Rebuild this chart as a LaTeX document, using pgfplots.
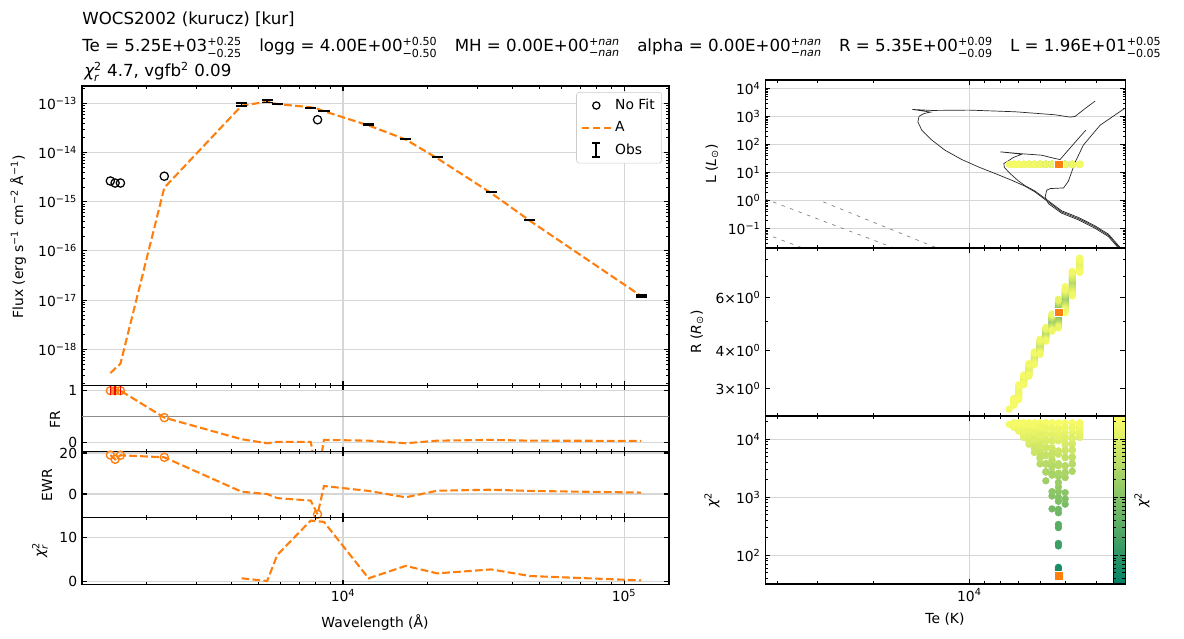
\documentclass[border=0pt]{standalone}
\usepackage{fontspec}
\setmainfont{DejaVu Sans}
\usepackage{amsmath}
\usepackage{pgfplots}
\usepackage{pgfplotstable}
\pgfplotsset{compat=1.18}

\definecolor{mplorange}{HTML}{FF7F0E}
\definecolor{gridgray}{HTML}{D6D6D6}
\definecolor{legedge}{HTML}{CCCCCC}
\pgfplotsset{colormap={summer}{rgb=(0,0.5,0.4) rgb=(1,1,0.4)}}

\pgfplotsset{every axis/.append style={
    scale only axis,
    axis line style={line width=0.8pt},
    tick align=inside,
    major tick length=3.5pt, minor tick length=2pt,
    every tick/.append style={black, line width=0.8pt},
    every minor tick/.append style={line width=0.6pt},
    grid style={gridgray, line width=0.8pt},
    tick label style={font=\fontsize{10}{12}\selectfont}}}

\tikzset{
  dashA/.style={mplorange, line width=1.5pt, dash pattern=on 5.5pt off 2.4pt},
  iso/.style={black!85, line width=0.5pt},
  rline/.style={gray, line width=0.5pt, dash pattern=on 2.5pt off 4pt},
}
\pgfplotsset{
  gridpts/.style={scatter, only marks, mark=*, mark size=2.4pt,
    scatter/use mapped color={draw=mapped color, fill=mapped color},
    point meta={ln(\thisrow{chi})}},
}
\newcommand{\gap}{\hspace{1.04em}}

% photometry
\pgfplotstableread{
wl F err
4355 9.55e-14 6.7e-15
5370 1.11e-13 5.6e-15
5834 9.55e-14 1.9e-15
7674 8.04e-14 1.6e-15
8551 7.08e-14 1.4e-15
12331 3.72e-14 7.4e-16
16711 1.91e-14 3.8e-16
21627 8.04e-15 1.6e-16
33651 1.58e-15 3.2e-17
46238 4.32e-16 8.6e-18
115080 1.22e-17 6.1e-19
}\obstab

\pgfplotstableread{
wl F
1486 2.64e-15
1545 2.40e-15
1614 2.40e-15
2312 3.30e-15
8115 4.64e-14
}\nofit

\pgfplotstableread{
wl F FR EWR
1486 3.29e-19 1.0 19.0
1545 4.07e-19 1.0 16.9
1614 5.09e-19 1.0 18.9
2312 1.93e-15 0.477 17.9
4355 8.95e-14 0.058 1.1
5370 1.08e-13 -0.02 0.0
5834 9.68e-14 0.006 -2.0
7674 8.32e-14 0.006 -3.2
8115 7.76e-14 -0.70 -9.9
8551 6.92e-14 0.045 3.9
12331 3.56e-14 0.03 1.5
16711 1.84e-14 -0.02 -1.6
21627 7.66e-15 0.03 1.6
33651 1.50e-15 0.045 2.1
46238 4.09e-16 0.03 1.5
115080 1.21e-17 0.026 0.7
}\modeltab

\pgfplotstableread{
wl chi
4355 0.68
5370 0.07
5834 6.0
7674 13.8
8551 13.5
12331 0.68
16711 3.5
21627 1.8
33651 2.7
46238 1.2
115080 0.2
}\chitab

% isochrones
\pgfplotstableread{
Te L
3281 0.0147
3357 0.0193
3656 0.0578
4027 0.1148
4539 0.2275
5129 0.394
5649 0.895
6223 2.042
6683 3.25
7363 5.32
8298 9.20
9373 15.9
10568 29.1
11940 62.8
13118 142.9
14125 325
14521 646
14388 1028
13867 1279
13243 1429
15100 1778
13118 1637
10023 1683
7178 1469
5383 1148
4819 946
4656 1000
4325 1932
4027 3532
}\isoA

\pgfplotstableread{
Te L
3281 0.0162
3357 0.0212
3656 0.0636
4027 0.126
4539 0.250
5129 0.433
5649 0.98
6223 2.2
6683 3.4
7017 5.04
7447 9.20
7762 15.1
7798 20.9
7577 25.4
7278 34.4
6839 45.2
7998 54.7
7017 47.8
5930 41.6
5383 31.6
5188 29.1
4943 54.7
4592 142.9
4305 325
}\isoB

\pgfplotstableread{
Te L
3281 0.0132
3357 0.0174
3656 0.052
4027 0.103
4539 0.205
5129 0.355
5649 0.782
5781 1.352
5714 2.34
5572 2.685
5058 2.83
4886 4.90
4656 22.8
4385 94.6
3882 490
3228 2042
}\isoC

% model grid
\pgfplotstableread{
Te R L chi
7500 2.56 19.6 18000
7250 2.710 19.6 16000
7250 2.693 19.6 16900
7250 2.728 19.6 16700
7250 2.675 19.6 17700
7250 2.745 19.6 17500
7250 2.658 19.6 18500
7250 2.763 19.6 18300
7250 2.640 19.6 19000
7250 2.780 19.6 19200
7000 2.915 19.6 13800
7000 2.874 19.6 15200
7000 2.956 19.6 15000
7000 2.833 19.6 16600
7000 2.998 19.6 16400
7000 2.791 19.6 17900
7000 3.039 19.6 17700
7000 2.750 19.6 19000
7000 3.080 19.6 19200
6750 3.20 19.6 10700
6750 3.17 19.6 12700
6750 3.23 19.6 12500
6750 3.14 19.6 15000
6750 3.26 19.6 14800
6750 3.11 19.6 17100
6750 3.29 19.6 16900
6750 3.08 19.6 19000
6750 3.32 19.6 19200
6500 3.455 19.6 8200
6500 3.414 19.6 10600
6500 3.496 19.6 10400
6500 3.373 19.6 13400
6500 3.538 19.6 13200
6500 3.331 19.6 16200
6500 3.579 19.6 16000
6500 3.290 19.6 19000
6500 3.620 19.6 19200
6250 3.775 19.6 5900
6250 3.729 19.6 8400
6250 3.821 19.6 8200
6250 3.683 19.6 11600
6250 3.868 19.6 11400
6250 3.636 19.6 15200
6250 3.914 19.6 15000
6250 3.590 19.6 19000
6250 3.960 19.6 19200
6000 4.12 19.6 3750
6000 4.06 19.6 6100
6000 4.18 19.6 5900
6000 4.00 19.6 9600
6000 4.24 19.6 9400
6000 3.94 19.6 14000
6000 4.30 19.6 13800
6000 3.88 19.6 19000
6000 4.36 19.6 19200
5750 4.53 19.6 1920
5750 4.47 19.6 3820
5750 4.59 19.6 3700
5750 4.41 19.6 7260
5750 4.65 19.6 7000
5750 4.35 19.6 12300
5750 4.71 19.6 12000
5750 4.29 19.6 19000
5750 4.77 19.6 19200
5500 4.955 19.6 630
5500 4.90 19.6 1050
5500 5.01 19.6 1250
5500 4.85 19.6 2600
5500 5.06 19.6 2400
5500 4.79 19.6 4500
5500 5.12 19.6 4200
5500 4.74 19.6 7100
5500 5.17 19.6 6800
5500 4.68 19.6 12300
5500 5.23 19.6 11800
5500 4.63 19.6 19000
5500 5.28 19.6 19200
5250 5.35 19.6 44
5250 5.30 19.6 57
5250 5.40 19.6 62
5250 5.25 19.6 145
5250 5.45 19.6 160
5250 5.20 19.6 300
5250 5.50 19.6 340
5250 5.15 19.6 540
5250 5.55 19.6 620
5250 5.10 19.6 850
5250 5.60 19.6 1000
5250 5.05 19.6 1250
5250 5.65 19.6 1500
5250 5.00 19.6 1800
5250 5.70 19.6 2300
5250 4.95 19.6 2600
5250 5.75 19.6 3500
5250 4.90 19.6 3800
5250 5.80 19.6 5500
5250 4.85 19.6 6300
5250 5.85 19.6 9400
5250 4.80 19.6 11000
5250 5.90 19.6 16000
5250 4.75 19.6 19000
5000 5.915 19.6 760
5000 5.82 19.6 930
5000 6.01 19.6 1200
5000 5.72 19.6 2180
5000 6.11 19.6 2600
5000 5.62 19.6 3470
5000 6.21 19.6 4900
5000 5.52 19.6 6500
5000 6.30 19.6 8000
5000 5.43 19.6 11000
5000 6.40 19.6 13000
5000 5.33 19.6 19000
5000 6.50 19.6 19200
4750 6.675 19.6 2800
4750 6.52 19.6 4980
4750 6.83 19.6 4800
4750 6.36 19.6 8500
4750 6.99 19.6 8200
4750 6.21 19.6 13200
4750 7.14 19.6 12800
4750 6.05 19.6 19000
4750 7.30 19.6 19200
4500 7.66 19.6 10700
4500 7.555 19.6 12700
4500 7.765 19.6 12500
4500 7.45 19.6 15000
4500 7.87 19.6 14800
4500 7.345 19.6 17100
4500 7.975 19.6 16900
4500 7.24 19.6 19000
4500 8.08 19.6 19200
7250 2.701 19.6 16400
7250 2.719 19.6 16300
7250 2.684 19.6 17300
7250 2.736 19.6 17200
7250 2.666 19.6 18100
7250 2.754 19.6 18000
7250 2.649 19.6 18700
7250 2.771 19.6 18600
7000 2.894 19.6 14500
7000 2.936 19.6 14300
7000 2.853 19.6 16000
7000 2.977 19.6 15800
7000 2.812 19.6 17300
7000 3.018 19.6 17100
7000 2.771 19.6 18500
7000 3.059 19.6 18300
6750 3.185 19.6 11700
6750 3.215 19.6 11500
6750 3.155 19.6 13900
6750 3.245 19.6 13700
6750 3.125 19.6 16000
6750 3.275 19.6 15800
6750 3.095 19.6 18100
6750 3.305 19.6 17900
6500 3.434 19.6 9400
6500 3.476 19.6 9200
6500 3.393 19.6 12000
6500 3.517 19.6 11800
6500 3.352 19.6 14800
6500 3.558 19.6 14600
6500 3.311 19.6 17700
6500 3.599 19.6 17500
6250 3.752 19.6 7100
6250 3.798 19.6 6900
6250 3.706 19.6 10000
6250 3.844 19.6 9800
6250 3.659 19.6 13400
6250 3.891 19.6 13200
6250 3.613 19.6 17100
6250 3.937 19.6 16900
6000 4.09 19.6 4860
6000 4.15 19.6 4700
6000 4.03 19.6 7800
6000 4.21 19.6 7600
6000 3.97 19.6 11700
6000 4.27 19.6 11500
6000 3.91 19.6 16400
6000 4.33 19.6 16200
5750 4.50 19.6 2770
5750 4.56 19.6 2700
5750 4.44 19.6 5400
5750 4.62 19.6 5200
5750 4.38 19.6 9600
5750 4.68 19.6 9300
5750 4.32 19.6 15500
5750 4.74 19.6 15200
5500 4.82 19.6 3400
5500 5.09 19.6 3300
5500 4.765 19.6 5700
5500 5.145 19.6 5500
5500 4.71 19.6 9500
5500 5.20 19.6 9200
5500 4.655 19.6 15500
5500 5.255 19.6 15000
5250 5.875 19.6 12500
5250 4.775 19.6 14500
5000 5.77 19.6 2700
5000 6.06 19.6 3500
5000 5.67 19.6 4800
5000 6.16 19.6 6300
5000 5.57 19.6 8500
5000 6.255 19.6 10200
5000 5.475 19.6 15500
5000 6.35 19.6 16000
4750 6.60 19.6 3800
4750 6.75 19.6 3700
4750 6.44 19.6 6600
4750 6.91 19.6 6400
4750 6.28 19.6 10700
4750 7.07 19.6 10400
4750 6.13 19.6 16000
4750 7.22 19.6 15700
4500 7.61 19.6 11700
4500 7.71 19.6 11500
4500 7.50 19.6 13900
4500 7.82 19.6 13700
4500 7.40 19.6 16000
4500 7.92 19.6 15800
4500 7.29 19.6 18100
4500 8.03 19.6 17900
}\gridtab

\begin{document}
\begin{tikzpicture}
\path[use as bounding box] (0pt,0pt) rectangle (852.48pt,-460.08pt);

% ---------- SED ----------
\begin{axis}[at={(59.04pt,-61.92pt)}, anchor=north west,
  width=422.64pt, height=215.64pt,
  xmode=log, xmin=1178, xmax=144500,
  xtick={10000,100000}, xticklabels={},
  minor xtick={2000,3000,4000,5000,6000,7000,8000,9000,20000,30000,40000,50000,60000,70000,80000,90000},
  ymode=log, ymin=1.84e-19, ymax=2.25e-13,
  ytick={1e-18,1e-17,1e-16,1e-15,1e-14,1e-13},
  yticklabels={10\textsuperscript{−18},10\textsuperscript{−17},10\textsuperscript{−16},10\textsuperscript{−15},10\textsuperscript{−14},10\textsuperscript{−13}},
  minor ytick={2e-19,3e-19,4e-19,5e-19,6e-19,7e-19,8e-19,9e-19,
    2e-18,3e-18,4e-18,5e-18,6e-18,7e-18,8e-18,9e-18,
    2e-17,3e-17,4e-17,5e-17,6e-17,7e-17,8e-17,9e-17,
    2e-16,3e-16,4e-16,5e-16,6e-16,7e-16,8e-16,9e-16,
    2e-15,3e-15,4e-15,5e-15,6e-15,7e-15,8e-15,9e-15,
    2e-14,3e-14,4e-14,5e-14,6e-14,7e-14,8e-14,9e-14,2e-13},
  xmajorgrids, ymajorgrids,
  legend style={at={(0.988,0.98)}, anchor=north east, draw=legedge,
    rounded corners=2pt, fill=white, font=\fontsize{10}{12}\selectfont,
    inner xsep=3pt, inner ysep=3pt, row sep=3pt},
  legend cell align=left]
\addplot[dashA, forget plot] table[x=wl, y=F]{\modeltab};
\addplot[only marks, mark=text, text mark={}, forget plot,
  error bars/.cd, y dir=both, y explicit,
  error bar style={black, line width=1pt},
  error mark options={rotate=90, black, line width=1pt, mark size=4pt}]
  table[x=wl, y=F, y error=err]{\obstab};
\addplot[only marks, mark=o, mark size=3pt, mark options={black, line width=0.9pt}, forget plot]
  table[x=wl, y=F]{\nofit};
\addlegendimage{legend image code/.code={\path[draw=none] (0cm,-0.1cm) -- (0.75cm,0.1cm); \draw[black, line width=0.9pt] (0.37cm,0cm) circle (2.6pt);}}
\addlegendentry{No Fit}
\addlegendimage{legend image code/.code={\draw[mplorange, line width=1.5pt, dash pattern=on 5.5pt off 2.4pt] (0cm,0cm) -- (0.75cm,0cm);}}
\addlegendentry{A}
\addlegendimage{legend image code/.code={\path[draw=none] (0cm,0cm) -- (0.75cm,0cm);
  \draw[black, line width=1.5pt] (0.37cm,-0.17cm) -- (0.37cm,0.17cm);
  \draw[black, line width=1.5pt] (0.27cm,0.17cm) -- (0.47cm,0.17cm);
  \draw[black, line width=1.5pt] (0.27cm,-0.17cm) -- (0.47cm,-0.17cm);}}
\addlegendentry{Obs}
\end{axis}

% ---------- FR ----------
\begin{axis}[at={(59.04pt,-277.56pt)}, anchor=north west,
  width=422.64pt, height=47.52pt,
  xmode=log, xmin=1178, xmax=144500,
  xtick={10000,100000}, xticklabels={},
  minor xtick={2000,3000,4000,5000,6000,7000,8000,9000,20000,30000,40000,50000,60000,70000,80000,90000},
  ymin=-0.18, ymax=1.10, ytick={0,1}, yticklabels={0,1},
  xmajorgrids, ymajorgrids]
\addplot[black!45, line width=0.8pt] coordinates {(1000,0.5) (200000,0.5)};
\addplot[dashA] table[x=wl, y=FR]{\modeltab};
\addplot[only marks, mark=o, mark size=2.9pt, mark options={mplorange, line width=1pt}]
  coordinates {(1486,1.0) (1545,1.0) (1614,1.0) (2312,0.477)};
\addplot[only marks, mark=|, mark size=3pt, mark options={red, line width=1pt}]
  coordinates {(1486,1.0) (1545,1.0) (1614,1.0)};
\end{axis}

% ---------- EWR ----------
\begin{axis}[at={(59.04pt,-325.08pt)}, anchor=north west,
  width=422.64pt, height=47.52pt,
  xmode=log, xmin=1178, xmax=144500,
  xtick={10000,100000}, xticklabels={},
  minor xtick={2000,3000,4000,5000,6000,7000,8000,9000,20000,30000,40000,50000,60000,70000,80000,90000},
  ymin=-11.46, ymax=20.73, ytick={0,20}, yticklabels={0,20},
  xmajorgrids, ymajorgrids]
\addplot[dashA] table[x=wl, y=EWR]{\modeltab};
\addplot[only marks, mark=o, mark size=2.9pt, mark options={mplorange, line width=1pt}]
  coordinates {(1486,19.0) (1545,16.9) (1614,18.9) (2312,17.9) (8115,-9.9)};
\end{axis}

% ---------- chi2 per band ----------
\begin{axis}[at={(59.04pt,-372.6pt)}, anchor=north west,
  width=422.64pt, height=48.24pt,
  xmode=log, xmin=1178, xmax=144500,
  xtick={10000,100000}, xticklabels={10\textsuperscript{4},10\textsuperscript{5}},
  minor xtick={2000,3000,4000,5000,6000,7000,8000,9000,20000,30000,40000,50000,60000,70000,80000,90000},
  ymin=-0.73, ymax=14.5, ytick={0,10}, yticklabels={0,10},
  xmajorgrids, ymajorgrids]
\addplot[dashA] table[x=wl, y=chi]{\chitab};
\end{axis}

% ---------- HR ----------
\begin{axis}[at={(551.16pt,-57.6pt)}, anchor=north west,
  width=259.06pt, height=120.96pt,
  xmode=log, x dir=reverse, xmin=3236, xmax=43750,
  xtick={10000}, xticklabels={},
  minor xtick={4000,5000,6000,7000,8000,9000,20000,30000,40000},
  ymode=log, ymin=0.0204, ymax=19950,
  ytick={0.1,1,10,100,1000,10000},
  yticklabels={10\textsuperscript{−1},10\textsuperscript{0},10\textsuperscript{1},10\textsuperscript{2},10\textsuperscript{3},10\textsuperscript{4}},
  minor ytick={0.03,0.04,0.05,0.06,0.07,0.08,0.09,0.2,0.3,0.4,0.5,0.6,0.7,0.8,0.9,
    2,3,4,5,6,7,8,9,20,30,40,50,60,70,80,90,200,300,400,500,600,700,800,900,
    2000,3000,4000,5000,6000,7000,8000,9000},
  xmajorgrids, ymajorgrids,
  point meta min=3.465, point meta max=10.131, colormap name=summer]
\addplot[rline] coordinates {(44000,1.16) (17000,0.0192)};
\addplot[rline] coordinates {(28774,0.895) (12500,0.0194)};
\addplot[rline] coordinates {(44000,0.0662) (32500,0.0181)};
\addplot[iso] table[x=Te, y=L]{\isoA};
\addplot[iso] table[x=Te, y=L]{\isoB};
\addplot[iso] table[x=Te, y=L]{\isoC};
\addplot[gridpts] table[x=Te, y=L]{\gridtab};
\addplot[only marks, mark=square*, mark size=3.1pt, mark options={fill=mplorange, draw=white, line width=0.3pt}] coordinates {(5250,19.6)};
\end{axis}

% ---------- R ----------
\begin{axis}[at={(551.16pt,-178.56pt)}, anchor=north west,
  width=259.06pt, height=120.96pt,
  xmode=log, x dir=reverse, xmin=3236, xmax=43750,
  xtick={10000}, xticklabels={},
  minor xtick={4000,5000,6000,7000,8000,9000,20000,30000,40000},
  ymode=log, ymin=2.43, ymax=8.72,
  ytick={3,4,6},
  yticklabels={3×10\textsuperscript{0},4×10\textsuperscript{0},6×10\textsuperscript{0}},
  minor ytick={5,7,8},
  xmajorgrids,
  point meta min=3.465, point meta max=10.131, colormap name=summer]
\addplot[gridpts] table[x=Te, y=R]{\gridtab};
\addplot[only marks, mark=square*, mark size=3.1pt, mark options={fill=mplorange, draw=white, line width=0.3pt}] coordinates {(5250,5.35)};
\end{axis}

% ---------- chi2 grid ----------
\begin{axis}[at={(551.16pt,-299.52pt)}, anchor=north west,
  width=259.06pt, height=120.96pt,
  xmode=log, x dir=reverse, xmin=3236, xmax=43750,
  xtick={10000}, xticklabels={10\textsuperscript{4}},
  minor xtick={4000,5000,6000,7000,8000,9000,20000,30000,40000},
  ymode=log, ymin=32, ymax=25119,
  ytick={100,1000,10000},
  yticklabels={10\textsuperscript{2},10\textsuperscript{3},10\textsuperscript{4}},
  minor ytick={40,50,60,70,80,90,200,300,400,500,600,700,800,900,
    2000,3000,4000,5000,6000,7000,8000,9000,20000},
  xmajorgrids, ymajorgrids,
  point meta min=3.465, point meta max=10.131, colormap name=summer,
  colorbar,
  colorbar style={at={(parent axis.south east)}, anchor=south east, xshift=-8.64pt,
    width=8.64pt, height=120.96pt,
    ytick={4.605,6.908,9.210}, yticklabels={},
    minor ytick={3.689,3.912,4.094,4.248,4.382,4.500,5.298,5.704,5.991,6.215,6.397,6.551,6.685,6.802,
      7.601,8.006,8.294,8.517,8.700,8.854,8.987,9.105,9.903}}]
\addplot[gridpts] table[x=Te, y=chi]{\gridtab};
\addplot[only marks, mark=square*, mark size=3.1pt, mark options={fill=mplorange, draw=white, line width=0.3pt}] coordinates {(5250,44)};
\end{axis}

% ---------- texts ----------
\begin{scope}[every node/.style={inner sep=0pt}]
\node[anchor=base west, font=\fontsize{12}{14}\selectfont] at (59.04pt,-18pt) {WOCS2002 (kurucz) [kur]};
\node[anchor=base west, font=\fontsize{12}{14}\selectfont] at (59.04pt,-37.44pt)
  {Te = 5.25E+03$^{\text{+0.25}}_{\text{−0.25}}$\gap logg = 4.00E+00$^{\text{+0.50}}_{\text{−0.50}}$\gap MH = 0.00E+00$^{\text{+\itshape nan}}_{\text{−\itshape nan}}$\gap alpha = 0.00E+00$^{\text{+\itshape nan}}_{\text{−\itshape nan}}$\gap R = 5.35E+00$^{\text{+0.09}}_{\text{−0.09}}$\gap L = 1.96E+01$^{\text{+0.05}}_{\text{−0.05}}$};
\node[anchor=base west, font=\fontsize{12}{14}\selectfont] at (60.48pt,-55.44pt)
  {{\itshape χ}$^{\text{2}}_{\text{\itshape r}}$ 4.7, vgfb$^{\text{2}}$ 0.09};

\node[rotate=90, font=\fontsize{10}{12}\selectfont] at (12.96pt,-170.64pt) {Flux (erg s\textsuperscript{−1} cm\textsuperscript{−2} Å\textsuperscript{−1})};
\node[rotate=90, font=\fontsize{10}{12}\selectfont] at (39.6pt,-302.4pt) {FR};
\node[rotate=90, font=\fontsize{10}{12}\selectfont] at (33.84pt,-349.2pt) {EWR};
\node[rotate=90, font=\fontsize{10}{12}\selectfont] at (28.8pt,-396pt) {{\itshape χ}$^{\text{2}}_{\text{\itshape r}}$};
\node[font=\fontsize{10}{12}\selectfont] at (270pt,-447.84pt) {Wavelength (Å)};
\node[rotate=90, font=\fontsize{10}{12}\selectfont] at (512.64pt,-118.08pt) {L ({\itshape L}\textsubscript{⊙})};
\node[rotate=90, font=\fontsize{10}{12}\selectfont] at (501.84pt,-239.04pt) {R ({\itshape R}\textsubscript{⊙})};
\node[rotate=90, font=\fontsize{10}{12}\selectfont] at (512.64pt,-360pt) {{\itshape χ}\textsuperscript{2}};
\node[rotate=90, font=\fontsize{10}{12}\selectfont] at (822.24pt,-360pt) {{\itshape χ}\textsuperscript{2}};
\node[font=\fontsize{10}{12}\selectfont] at (680.4pt,-445.68pt) {Te (K)};
\end{scope}
\end{tikzpicture}
\end{document}
